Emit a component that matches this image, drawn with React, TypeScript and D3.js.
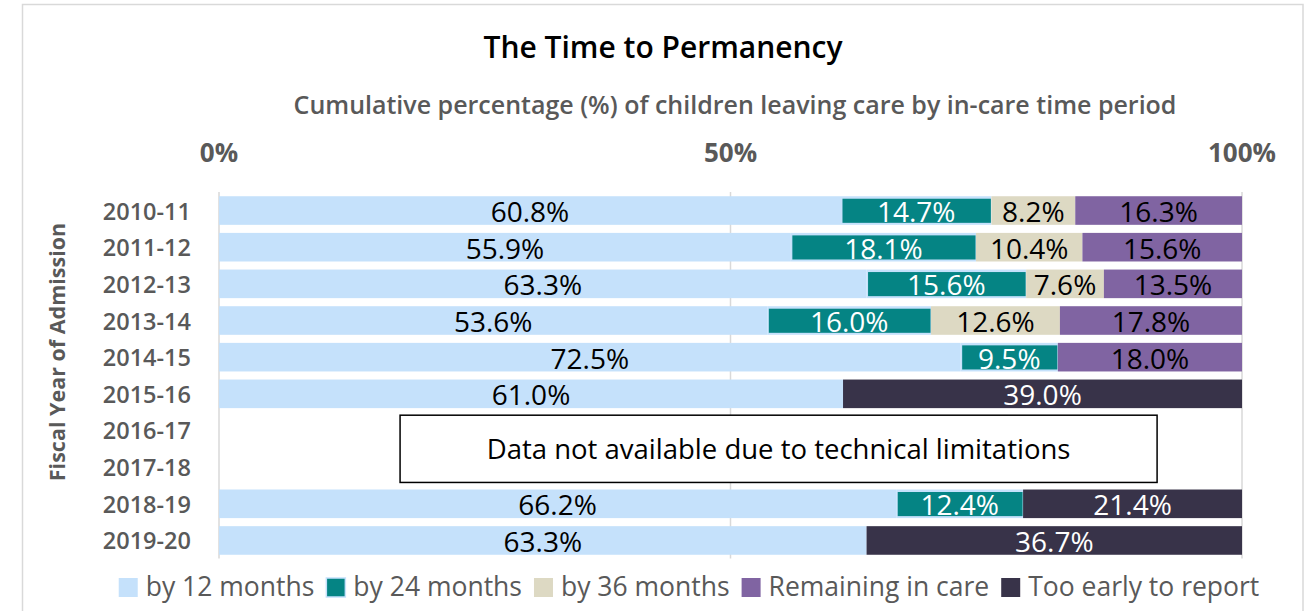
import React, { useEffect, useRef } from "react";
import * as d3 from "d3";

const years = ["2010-11", "2011-12", "2012-13", "2013-14", "2014-15", "2015-16", "2016-17", "2017-18", "2018-19", "2019-20"];
const by12 = [60.8, 55.9, 63.3, 53.6, 72.5, 61.0, 0, 0, 66.2, 63.3];
const by24 = [14.7, 18.1, 15.6, 16.0, 9.5, 0, 0, 0, 12.4, 0];
const by36 = [8.2, 10.4, 7.6, 12.6, 0, 0, 0, 0, 0, 0];
const remaining = [16.3, 15.6, 13.5, 17.8, 18.0, 0, 0, 0, 0, 0];
const tooEarly = [0, 0, 0, 0, 0, 39.0, 0, 0, 21.4, 36.7];
const seriesNames = ["by 12 months", "by 24 months", "by 36 months", "Remaining in care", "Too early to report"];
const seriesKeys = ["by12", "by24", "by36", "remaining", "tooEarly"];
const seriesColors = ["#c5e1fb", "#058484", "#ddd9c3", "#8064a2", "#383349"];
const labelColors = ["#000000", "#ffffff", "#000000", "#000000", "#ffffff"];
const xTicks = [0, 50, 100];
const missingYears = ["2016-17", "2017-18"];
const noteText = "Data not available due to technical limitations";

const W = 1307;
const H = 611;
const FONT = "'Open Sans', 'Noto Sans', sans-serif";

export default function App() {
  const legendRef = useRef<SVGGElement>(null);

  const rows = years.map((y, i) => ({
    year: y,
    by12: by12[i],
    by24: by24[i],
    by36: by36[i],
    remaining: remaining[i],
    tooEarly: tooEarly[i],
  }));
  const stacked = d3.stack<any>().keys(seriesKeys)(rows);

  const x = d3.scaleLinear().domain([0, 100]).range([219, 1242]);
  const y = d3.scaleBand().domain(years).range([192.2, 558.8]).paddingInner(0.22).paddingOuter(0.11);
  const bw = y.bandwidth();

  useEffect(() => {
    const g = d3.select(legendRef.current);
    g.selectAll("*").remove();
    const sq = 19;
    const gapText = 8;
    const gapItem = 12;
    const items: { w: number; node: any; i: number }[] = [];
    seriesNames.forEach((name, i) => {
      const item = g.append("g");
      item
        .append("rect")
        .attr("x", 0)
        .attr("y", -sq / 2)
        .attr("width", sq)
        .attr("height", sq)
        .attr("fill", seriesColors[i])
        .attr("stroke", i === 1 ? "#c5e1fb" : "none")
        .attr("stroke-width", 1.5);
      const t = item
        .append("text")
        .attr("x", sq + gapText)
        .attr("y", 8.5)
        .attr("font-family", FONT)
        .attr("font-size", 26.5)
        .attr("fill", "#595959")
        .text(name);
      const tw = (t.node() as SVGTextElement).getComputedTextLength();
      items.push({ w: sq + gapText + tw, node: item, i });
    });
    const total = d3.sum(items, (d) => d.w) + gapItem * (items.length - 1);
    let cx = 689 - total / 2;
    items.forEach((it) => {
      it.node.attr("transform", `translate(${cx},587.5)`);
      cx += it.w + gapItem;
    });
  }, []);

  const noteTop = (y(missingYears[0]) as number) - 1;
  const noteBottom = (y(missingYears[1]) as number) + bw + 1;

  return (
    <svg width={W} height={H} style={{ position: "absolute", left: 0, top: 0, background: "#fff" }}>
      <rect x={22.5} y={4.5} width={1280.5} height={620} fill="#ffffff" stroke="#d9d9d9" strokeWidth={1.5} />
      <text x={663} y={58} textAnchor="middle" fontFamily={FONT} fontSize={30} fontWeight={600} fill="#000">
        The Time to Permanency
      </text>
      <text x={735} y={114} textAnchor="middle" fontFamily={FONT} fontSize={25} fontWeight={600} fill="#595959">
        Cumulative percentage (%) of children leaving care by in-care time period
      </text>
      {xTicks.map((t) => (
        <g key={t}>
          <text x={x(t)} y={162} textAnchor="middle" fontFamily={FONT} fontSize={26} fontWeight={700} fill="#595959">
            {t}%
          </text>
          <line x1={x(t)} x2={x(t)} y1={192} y2={558.5} stroke="#d9d9d9" strokeWidth={1.5} />
        </g>
      ))}
      <text
        transform={`translate(65,352) rotate(-90)`}
        textAnchor="middle"
        fontFamily={FONT}
        fontSize={21.5}
        fontWeight={700}
        fill="#595959"
      >
        Fiscal Year of Admission
      </text>
      {years.map((yr) => (
        <text
          key={yr}
          x={191}
          y={(y(yr) as number) + bw / 2 + 9}
          textAnchor="end"
          fontFamily={FONT}
          fontSize={23.5}
          fontWeight={600}
          fill="#595959"
        >
          {yr}
        </text>
      ))}
      {stacked.map((s, si) => (
        <g key={s.key}>
          {s.map((d, di) => {
            const v = d[1] - d[0];
            if (!v) return null;
            const yr = years[di];
            const x0 = x(d[0]);
            const x1 = x(d[1]);
            const yy = y(yr) as number;
            return (
              <g key={yr}>
                {si === 1 ? (
                  <>
                    <rect x={x0} y={yy} width={x1 - x0} height={bw} fill="#c5e1fb" />
                    <rect x={x0 + 1.5} y={yy + 2.5} width={x1 - x0 - 2} height={bw - 4.5} fill={seriesColors[si]} />
                  </>
                ) : (
                  <rect x={x0} y={yy} width={x1 - x0} height={bw} fill={seriesColors[si]} />
                )}
                <text
                  x={(x0 + x1) / 2}
                  y={yy + bw / 2 + 11.5}
                  textAnchor="middle"
                  fontFamily={FONT}
                  fontSize={28}
                  fill={labelColors[si]}
                >
                  {v.toFixed(1)}%
                </text>
              </g>
            );
          })}
        </g>
      ))}
      <rect
        x={x(17.7)}
        y={noteTop}
        width={x(91.7) - x(17.7)}
        height={noteBottom - noteTop}
        fill="#ffffff"
        stroke="#000000"
        strokeWidth={1.5}
      />
      <text
        x={(x(17.7) + x(91.7)) / 2}
        y={(noteTop + noteBottom) / 2 + 10}
        textAnchor="middle"
        fontFamily={FONT}
        fontSize={27.5}
        fill="#000"
      >
        {noteText}
      </text>
      <g ref={legendRef} />
    </svg>
  );
}
